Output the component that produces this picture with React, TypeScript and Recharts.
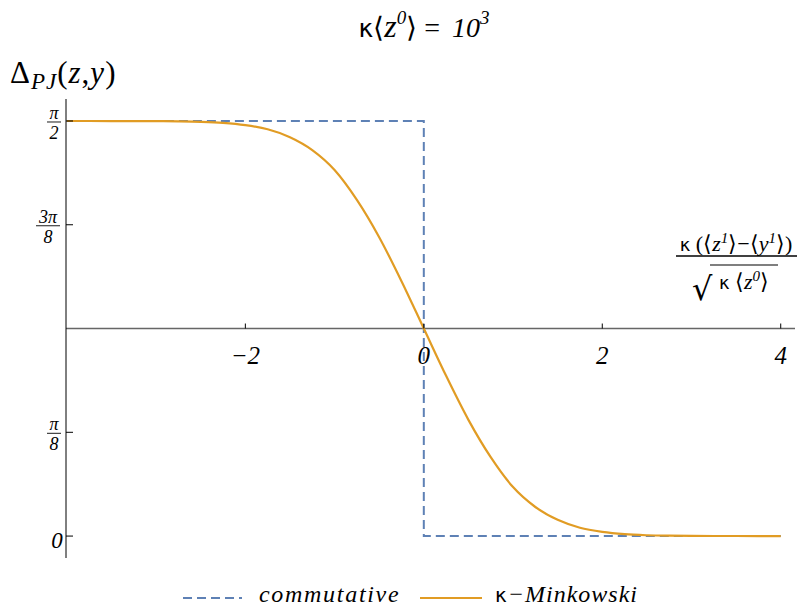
import { LineChart, Line, XAxis, YAxis, ReferenceLine, ReferenceDot } from 'recharts';

const xs = [-4, -3.5, -3, -2.75, -2.5, -2.25, -2, -1.75, -1.5, -1.25, -1, -0.75, -0.5, -0.25, 0,
    0.25, 0.5, 0.75, 1, 1.25, 1.5, 1.75, 2, 2.25, 2.5, 2.75, 3, 3.5, 4];
const minkowski = [1.5708, 1.5706, 1.5703, 1.5695, 1.5677, 1.5637, 1.5551, 1.5394, 1.5095, 1.4608, 1.3854, 1.2723, 1.1310, 0.9645, 0.7854,
    0.6063, 0.4398, 0.2985, 0.1854, 0.1100, 0.0613, 0.0314, 0.0157, 0.0071, 0.0031, 0.0013, 0.0005, 0.0002, 0];

// commutative case is a step at 0
const stepX = [-4, 0, 0, 4];
const stepY = [1.5708, 1.5708, 0, 0];

const xTicks = [-2, 0, 2, 4];
const xTickLabels = ['\u22122', '0', '2', '4'];
const yTicks = [0, 0.3927, 1.1781, 1.5708];
const yTickLabels = [['0', ''], ['\u03c0', '8'], ['3\u03c0', '8'], ['\u03c0', '2']];

const minkData = xs.map((x, i) => ({ x, y: minkowski[i] }));
const stepData = stepX.map((x, i) => ({ x, y: stepY[i] }));

const BLUE = '#5E81B5';
const ORANGE = '#E19C24';
const SERIF = 'Liberation Serif';
const GREEK = 'DejaVu Sans';

// recharts hands the tick x at axis - 8, so the axis itself is x + 8
const YTick = ({ x, y, payload }) => {
    const ax = x + 8;
    const i = yTicks.indexOf(payload.value);
    const [num, den] = yTickLabels[i];
    const tick = <line x1={ax} y1={y} x2={ax + 7} y2={y} stroke="#000" strokeWidth={1} />;
    if (!den) {
        return (
            <g>
                {tick}
                <text x={ax - 9} y={y + 12} textAnchor="middle" fontFamily={SERIF} fontStyle="italic" fontSize={23} fill="#000">{num}</text>
            </g>
        );
    }
    const wide = num.length > 1;
    const cx = wide ? ax - 18 : ax - 12;
    const half = wide ? 12 : 7;
    return (
        <g>
            {tick}
            <text x={cx} y={y - 2} textAnchor="middle" fontFamily={SERIF} fontStyle="italic" fontSize={18} fill="#000">{num}</text>
            <line x1={cx - half} y1={y + 1} x2={cx + half} y2={y + 1} stroke="#000" strokeWidth={0.9} />
            <text x={cx} y={y + 18} textAnchor="middle" fontFamily={SERIF} fontStyle="italic" fontSize={18} fill="#000">{den}</text>
        </g>
    );
};

const XTickShape = (label) => ({ cx, cy }) => (
    <g>
        <line x1={cx} y1={cy} x2={cx} y2={cy - 5} stroke="#000" strokeWidth={1} />
        <text x={cx} y={cy + 35} textAnchor="middle" fontFamily={SERIF} fontStyle="italic" fontSize={25}>{label}</text>
    </g>
);

const App = () => {
    return (
        <div style={{ position: 'absolute', left: 0, top: 0, width: 799, height: 607, background: '#fff' }}>
            <LineChart width={799} height={607} margin={{ top: 99, right: 4, bottom: 49, left: 0 }}>
                <XAxis type="number" dataKey="x" domain={[-4.01, 4.16]} hide allowDataOverflow />
                <YAxis
                    type="number"
                    dataKey="y"
                    width={66}
                    domain={[-0.083, 1.654]}
                    ticks={yTicks}
                    tick={YTick}
                    tickLine={false}
                    axisLine={{ stroke: '#000', strokeWidth: 1 }}
                    allowDataOverflow
                />
                <ReferenceLine y={0.7854} stroke="#666" strokeWidth={1.5} />
                {xTicks.map((t, i) => (
                    <ReferenceDot key={t} x={t} y={0.7854} r={0} shape={XTickShape(xTickLabels[i])} />
                ))}
                <Line data={stepData} dataKey="y" type="linear" stroke={BLUE} strokeWidth={2} strokeDasharray="9 5" dot={false} isAnimationActive={false} />
                <Line data={minkData} dataKey="y" type="monotone" stroke={ORANGE} strokeWidth={2.2} dot={false} isAnimationActive={false} />
            </LineChart>
            <svg width={799} height={607} style={{ position: 'absolute', left: 0, top: 0, pointerEvents: 'none' }}>
                <text x={424} y={37} textAnchor="middle" fontFamily={SERIF} fontSize={28}>
                    <tspan fontFamily={GREEK} fontSize={25}>{'\u03ba'}</tspan>
                    <tspan>{'\u27e8'}</tspan>
                    <tspan fontStyle="italic" fontSize={32}>z</tspan>
                    <tspan fontStyle="italic" fontSize={19} dy={-13}>0</tspan>
                    <tspan dy={13}>{'\u27e9 ='}</tspan>
                    <tspan fontStyle="italic" dx={12}>10</tspan>
                    <tspan fontStyle="italic" fontSize={19} dy={-13}>3</tspan>
                </text>
                <text x={10} y={83} fontFamily={SERIF} fontSize={31} letterSpacing={1}>
                    <tspan>{'\u0394'}</tspan>
                    <tspan fontStyle="italic" fontSize={23} dy={6}>PJ</tspan>
                    <tspan dy={-6}>(</tspan>
                    <tspan fontStyle="italic">z</tspan>
                    <tspan>,</tspan>
                    <tspan fontStyle="italic">y</tspan>
                    <tspan>)</tspan>
                </text>
                <text x={736} y={251} textAnchor="middle" fontFamily={SERIF} fontSize={22}>
                    <tspan fontFamily={GREEK} fontSize={18}>{'\u03ba'}</tspan>
                    <tspan>{' (\u27e8'}</tspan>
                    <tspan fontStyle="italic">z</tspan>
                    <tspan fontStyle="italic" fontSize={15} dy={-8}>1</tspan>
                    <tspan dy={8}>{'\u27e9\u2212\u27e8'}</tspan>
                    <tspan fontStyle="italic">y</tspan>
                    <tspan fontStyle="italic" fontSize={15} dy={-8}>1</tspan>
                    <tspan dy={8}>{'\u27e9)'}</tspan>
                </text>
                <line x1={676} y1={256} x2={797} y2={256} stroke="#000" strokeWidth={1.3} />
                <text x={692} y={300} fontFamily={GREEK} fontSize={32}>{'\u221a'}</text>
                <line x1={710} y1={265} x2={778} y2={265} stroke="#000" strokeWidth={1.2} />
                <text x={744} y={289} textAnchor="middle" fontFamily={SERIF} fontSize={22}>
                    <tspan fontFamily={GREEK} fontSize={18}>{'\u03ba'}</tspan>
                    <tspan>{' \u27e8'}</tspan>
                    <tspan fontStyle="italic">z</tspan>
                    <tspan fontStyle="italic" fontSize={15} dy={-8}>0</tspan>
                    <tspan dy={8}>{'\u27e9'}</tspan>
                </text>
                <line x1={183} y1={598} x2={242} y2={598} stroke={BLUE} strokeWidth={2} strokeDasharray="9 5" />
                <text x={259} y={602} fontFamily={SERIF} fontStyle="italic" fontSize={24} letterSpacing={1.7}>commutative</text>
                <line x1={420} y1={598} x2={482} y2={598} stroke={ORANGE} strokeWidth={2.2} />
                <text x={495} y={602} fontFamily={SERIF} fontSize={24} letterSpacing={1}>
                    <tspan fontFamily={GREEK} fontSize={20}>{'\u03ba'}</tspan>
                    <tspan fontStyle="italic">{'\u2212Minkowski'}</tspan>
                </text>
            </svg>
        </div>
    );
};

export default App;
